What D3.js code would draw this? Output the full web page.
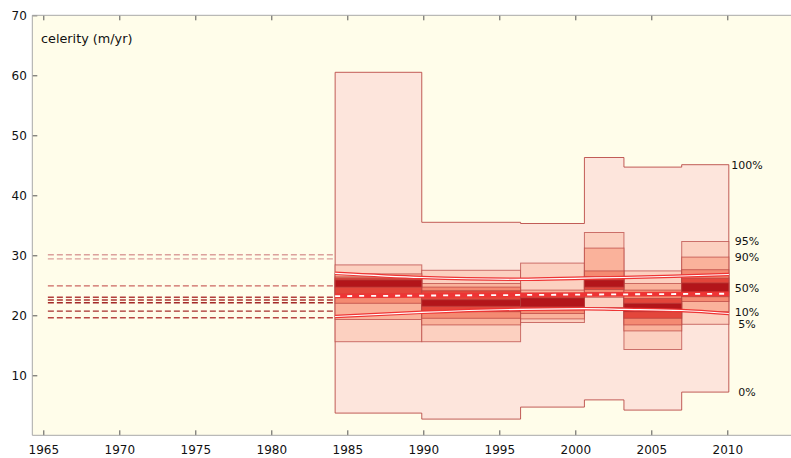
<!DOCTYPE html>
<html>
<head>
<meta charset="utf-8">
<script src="https://cdn.jsdelivr.net/npm/d3@7"></script>
<style>
  body { margin: 0; background: #fff; }
  svg { display: block; font-family: 'DejaVu Sans', Arial, sans-serif; }
</style>
</head>
<body>
<div id="chart"></div>
<script>
// interval boundaries (decimal years)
const edges = [1984.2, 1989.9, 1996.4, 2000.6, 2003.2, 2007.0, 2010.1]
// percentile levels used for every interval
const pctLevels = [0, 5, 10, 20, 30, 40, 50, 60, 70, 80, 90, 95, 100]
// celerity percentiles per interval (m/yr)
const p1984 = [3.7, 15.6, 19.3, 22.0, 23.5, 24.7, 25.4, 25.9, 26.2, 26.4, 26.9, 28.4, 60.5]
const p1990 = [2.7, 15.6, 18.4, 19.5, 20.6, 21.5, 22.1, 22.6, 24.1, 24.7, 25.3, 27.5, 35.5]
const p1996 = [4.7, 18.8, 19.4, 20.3, 20.9, 21.4, 22.2, 22.9, 23.2, 23.7, 24.2, 28.7, 35.3]
const p2001 = [5.9, 21.3, 23.0, 23.8, 24.3, 24.7, 25.3, 25.9, 26.4, 27.4, 31.2, 33.8, 46.3]
const p2003 = [4.2, 14.3, 17.4, 18.4, 19.5, 20.6, 21.3, 22.0, 22.8, 24.2, 25.3, 27.4, 44.7]
const p2007 = [7.2, 18.5, 20.6, 22.3, 23.1, 23.9, 24.6, 25.4, 26.2, 27.6, 29.7, 32.3, 45.1]
const intervals = [p1984, p1990, p1996, p2001, p2003, p2007]

// labelled percentiles at the right end
const labelPcts = [100, 95, 90, 50, 10, 5, 0]

// older reference values, drawn as dashed lines before the first interval
const refStart = 1965.3
const refLevels = [30.1, 29.4, 24.9, 23.0, 22.55, 22.1, 20.7, 19.6]

// linear trend and its confidence bounds
const trendYears = [1984.2, 2010.1]
const trendVals = [23.2, 23.6]
const ciYears = [1984.2, 1989.9, 1996.4, 2000.6, 2003.2, 2007.0, 2010.1]
const ciUpper = [27.0, 26.3, 26.0, 26.2, 26.3, 26.55, 26.8]
const ciLower = [19.8, 20.5, 21.0, 21.1, 21.0, 20.8, 20.3]

const xTicks = d3.range(1965, 2011, 5)
const yTicks = [10, 20, 30, 40, 50, 60, 70]

const W = 791, H = 458
const plot = {left: 32.3, top: 15.3, right: 791, bottom: 435.3}

const svg = d3.select('#chart').append('svg')
  .attr('width', W)
  .attr('height', H)

const x = d3.scaleLinear().domain([1965, 2010]).range([43.3, 727.3])
const y = d3.scaleLinear().domain([0, 70]).range([plot.bottom, plot.top])

svg.append('rect')
  .attr('x', plot.left).attr('y', plot.top)
  .attr('width', plot.right - plot.left).attr('height', plot.bottom - plot.top)
  .attr('fill', '#fffdea')

const bandColors = ['#fde5dc', '#fcd0c0', '#fab29b', '#f48a72', '#e4463b', '#b3151a']
const edgeColor = '#b6423e'

// outer 0-100% band as a stepped polygon
const stepData = intervals.map((p, i) => ({t: edges[i], lo: p[0], hi: p[p.length - 1]}))
stepData.push({t: edges[edges.length - 1], lo: p2007[0], hi: p2007[p2007.length - 1]})

const outer = d3.area()
  .curve(d3.curveStepAfter)
  .x(d => x(d.t))
  .y0(d => y(d.lo))
  .y1(d => y(d.hi))

svg.append('path')
  .datum(stepData)
  .attr('fill', bandColors[0])
  .attr('stroke', edgeColor)
  .attr('stroke-opacity', 0.85)
  .attr('stroke-width', 1)
  .attr('d', outer)

// inner nested percentile boxes
const n = pctLevels.length
for (let k = 1; k < n / 2; k++) {
  intervals.forEach((p, i) => {
    svg.append('rect')
      .attr('x', x(edges[i]))
      .attr('width', x(edges[i + 1]) - x(edges[i]))
      .attr('y', y(p[n - 1 - k]))
      .attr('height', y(p[k]) - y(p[n - 1 - k]))
      .attr('fill', bandColors[Math.min(k, bandColors.length - 1)])
      .attr('stroke', edgeColor)
      .attr('stroke-opacity', 0.7)
      .attr('stroke-width', 1)
  })
}

// dashed reference lines on the left
const refColor = d3.scaleLinear().domain([0, 3, 7]).range(['#9a1c1c', '#c9605a', '#dba09c']).clamp(true)
svg.append('g').selectAll('line')
  .data(refLevels)
  .join('line')
  .attr('x1', x(refStart))
  .attr('x2', x(edges[0]))
  .attr('y1', d => y(d))
  .attr('y2', d => y(d))
  .attr('stroke', d => refColor(Math.abs(d - 21.5)))
  .attr('stroke-width', 1.4)
  .attr('stroke-dasharray', '6,3')

// confidence bounds: red line with white core
const ciLine = d3.line().curve(d3.curveMonotoneX).x(d => x(d[0])).y(d => y(d[1]))
;[ciUpper, ciLower].forEach(vals => {
  const pts = ciYears.map((t, i) => [t, vals[i]])
  svg.append('path').datum(pts)
    .attr('fill', 'none').attr('stroke', '#ee3434').attr('stroke-width', 3.6)
    .attr('d', ciLine)
  svg.append('path').datum(pts)
    .attr('fill', 'none').attr('stroke', '#fff').attr('stroke-width', 1.2)
    .attr('d', ciLine)
})

// trend line: red with white dashes
const trendPts = trendYears.map((t, i) => [t, trendVals[i]])
svg.append('path').datum(trendPts)
  .attr('fill', 'none').attr('stroke', '#ee3434').attr('stroke-width', 4.5)
  .attr('d', ciLine)
svg.append('path').datum(trendPts)
  .attr('fill', 'none').attr('stroke', '#fff').attr('stroke-width', 1.8)
  .attr('stroke-dasharray', '5,7')
  .attr('d', ciLine)

// axes
const frame = '#a8a8a8'
const xAxis = d3.axisBottom(x).tickValues(xTicks).tickFormat(d3.format('d'))
  .tickSizeInner(-5).tickSizeOuter(0).tickPadding(10)
const gx = svg.append('g')
  .attr('transform', 'translate(0,' + plot.bottom + ')')
  .call(xAxis)
gx.select('.domain').remove()

const gxTop = svg.append('g')
  .attr('transform', 'translate(0,' + plot.top + ')')
  .call(d3.axisTop(x).tickValues(xTicks).tickFormat('').tickSizeInner(-5).tickSizeOuter(0))
gxTop.select('.domain').remove()

const gy = svg.append('g')
  .attr('transform', 'translate(' + plot.left + ',0)')
  .call(d3.axisLeft(y).tickValues(yTicks).tickSizeInner(-5).tickSizeOuter(0).tickPadding(5.5))
gy.select('.domain').remove()

svg.selectAll('.tick line').attr('stroke', '#555')
svg.selectAll('.tick text')
  .attr('font-size', 12)
  .attr('fill', '#111')
  .attr('font-family', 'DejaVu Sans, Arial, sans-serif')

svg.append('line')
  .attr('x1', plot.left).attr('x2', plot.right)
  .attr('y1', plot.top).attr('y2', plot.top)
  .attr('stroke', frame)
svg.append('line')
  .attr('x1', plot.left).attr('x2', plot.right)
  .attr('y1', plot.bottom).attr('y2', plot.bottom)
  .attr('stroke', frame)
svg.append('line')
  .attr('x1', plot.left).attr('x2', plot.left)
  .attr('y1', plot.top).attr('y2', plot.bottom)
  .attr('stroke', frame)

svg.append('text')
  .attr('x', 41)
  .attr('y', 43)
  .attr('font-size', 12.8)
  .attr('fill', '#111')
  .text('celerity (m/yr)')

// percentile labels at the last interval
svg.append('g').selectAll('text')
  .data(labelPcts)
  .join('text')
  .attr('x', 747)
  .attr('y', d => y(p2007[pctLevels.indexOf(d)]))
  .attr('dy', '0.35em')
  .attr('text-anchor', 'middle')
  .attr('font-size', 11)
  .attr('fill', '#111')
  .text(d => d + '%')
</script>
</body>
</html>
